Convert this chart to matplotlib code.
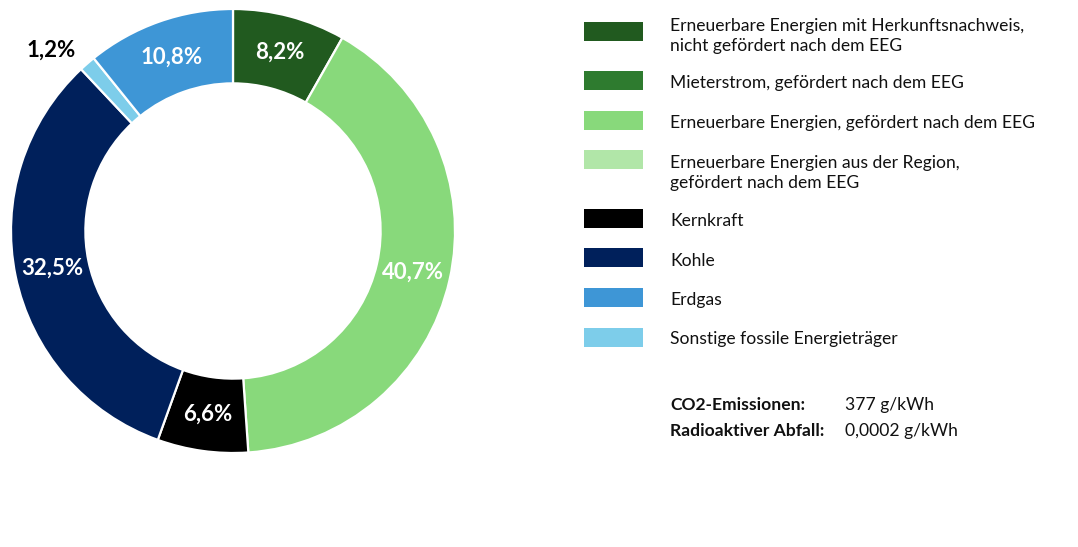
import matplotlib
matplotlib.use("Agg")
import matplotlib.pyplot as plt
from matplotlib.patches import Rectangle
import numpy as np

plt.rcParams['font.family'] = ['Lato', 'DejaVu Sans']

# data
categories = [
    "Erneuerbare Energien mit Herkunftsnachweis,\nnicht gefördert nach dem EEG",
    "Mieterstrom, gefördert nach dem EEG",
    "Erneuerbare Energien, gefördert nach dem EEG",
    "Erneuerbare Energien aus der Region,\ngefördert nach dem EEG",
    "Kernkraft",
    "Kohle",
    "Erdgas",
    "Sonstige fossile Energieträger",
]
shares = [8.2, 0.0, 40.7, 0.0, 6.6, 32.5, 10.8, 1.2]
colors = ["#215a1f", "#2e7b2f", "#88d97b", "#b1e6a8",
          "#000000", "#00205b", "#3e96d6", "#7dcdea"]

# order in which the slices appear clockwise from 12 o'clock
ring_order = [0, 2, 4, 5, 7, 6]
outside_labels = [7]

info_labels = ["CO2-Emissionen:", "Radioaktiver Abfall:"]
info_values = ["377 g/kWh", "0,0002 g/kWh"]

W, H = 1078, 547
fig = plt.figure(figsize=(W / 100, H / 100), dpi=100)

# donut
cx, cy, R = 233, 231, 222
ax = fig.add_axes([(cx - R) / W, (H - cy - R) / H, 2 * R / W, 2 * R / H])
vals = [shares[i] for i in ring_order]
cols = [colors[i] for i in ring_order]
wedges, _ = ax.pie(vals, colors=cols, startangle=90, counterclock=False,
                   radius=1.0,
                   wedgeprops=dict(width=0.335, edgecolor="white", linewidth=1.6))
ax.set_xlim(-1, 1)
ax.set_ylim(-1, 1)
ax.set_aspect("equal")
ax.axis("off")

for w, idx in zip(wedges, ring_order):
    mid = np.deg2rad((w.theta1 + w.theta2) / 2)
    txt = f"{shares[idx]:.1f}%".replace(".", ",")
    if idx in outside_labels:
        r = 1.08
        ax.text(r * np.cos(mid), r * np.sin(mid), txt, ha="right", va="center",
                fontsize=16, fontweight="bold", color="black")
    else:
        r = 1 - 0.335 / 2
        ax.text(r * np.cos(mid), r * np.sin(mid), txt, ha="center", va="center",
                fontsize=16, fontweight="bold", color="white")

# legend (drawn manually in pixel positions)
patch_tops = [22, 71, 111, 150, 209, 248, 288, 328]
text_baselines = [31, 87.7, 128.3, 168.3, 226, 265.7, 304.5, 344.3]
line_step = 20
for cat, col, top, base in zip(categories, colors, patch_tops, text_baselines):
    fig.patches.append(Rectangle((584 / W, 1 - (top + 19) / H), 59 / W, 19 / H,
                                 transform=fig.transFigure, facecolor=col,
                                 edgecolor="none"))
    for k, line in enumerate(cat.split("\n")):
        fig.text(670 / W, 1 - (base + k * line_step) / H, line, ha="left",
                 va="baseline", fontsize=12.6, color="#111111")

for lab, val, base in zip(info_labels, info_values, [410, 436]):
    fig.text(670 / W, 1 - base / H, lab, ha="left", va="baseline",
             fontsize=12.6, fontweight="bold", color="#111111")
    fig.text(845 / W, 1 - base / H, val, ha="left", va="baseline",
             fontsize=12.6, color="#111111")

plt.savefig("out.png", dpi=100)
plt.close()
